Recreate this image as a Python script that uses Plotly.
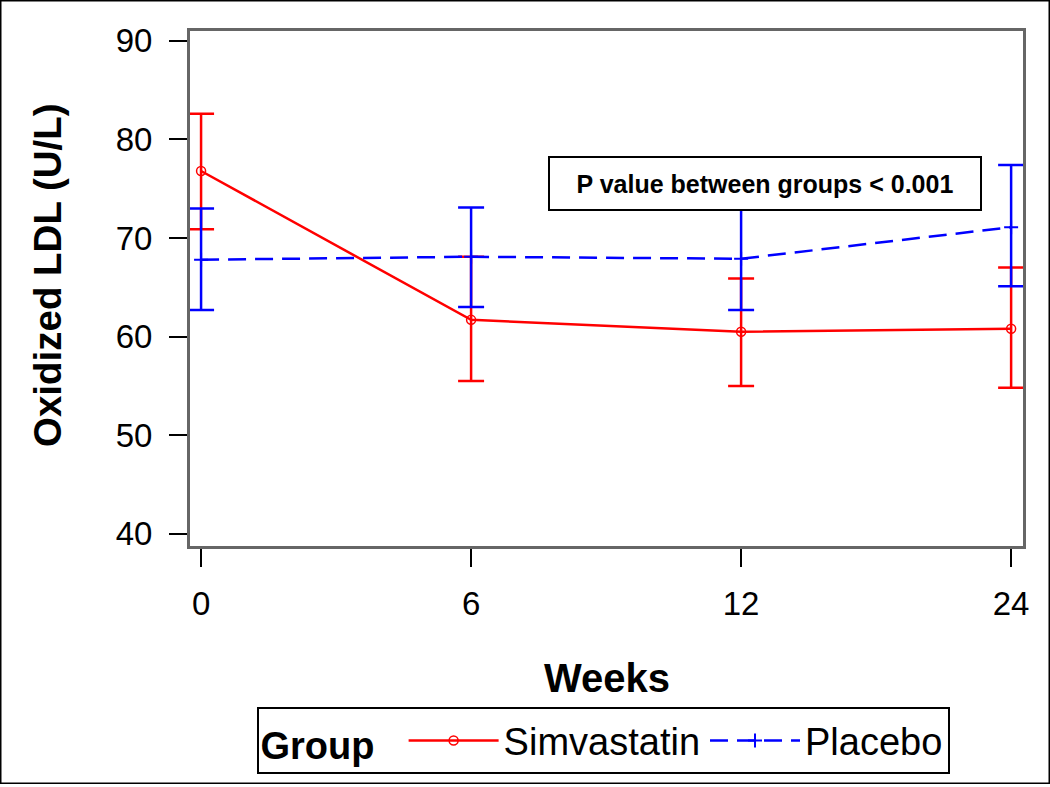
import plotly.graph_objects as go

weeks = ["0", "6", "12", "24"]

simva_mean = [76.8, 61.7, 60.5, 60.8]
simva_upper = [82.6, 68.1, 65.9, 67.0]
simva_lower = [70.9, 55.5, 55.0, 54.8]

placebo_mean = [67.8, 68.1, 67.9, 71.1]
placebo_upper = [73.0, 73.1, 73.1, 77.4]
placebo_lower = [62.7, 63.0, 62.7, 65.1]

y_ticks = [40, 50, 60, 70, 80, 90]

FONT = "Arial, Liberation Sans, sans-serif"
RED = "#ff0000"
BLUE = "#0000ff"

fig = go.Figure()

fig.add_trace(go.Scatter(
    x=weeks, y=simva_mean, name="Simvastatin", mode="lines+markers",
    line=dict(color=RED, width=2.5),
    marker=dict(symbol="circle-open", size=9, color=RED, line=dict(width=1.5, color=RED)),
    error_y=dict(type="data", symmetric=False,
                 array=[u - m for u, m in zip(simva_upper, simva_mean)],
                 arrayminus=[m - l for m, l in zip(simva_mean, simva_lower)],
                 color=RED, thickness=2.5, width=13),
))

fig.add_trace(go.Scatter(
    x=weeks, y=placebo_mean, name="Placebo", mode="lines+markers",
    line=dict(color=BLUE, width=2.5, dash="18px,9px"),
    marker=dict(symbol="cross-thin-open", size=10, color=BLUE, line=dict(width=2, color=BLUE)),
    error_y=dict(type="data", symmetric=False,
                 array=[u - m for u, m in zip(placebo_upper, placebo_mean)],
                 arrayminus=[m - l for m, l in zip(placebo_mean, placebo_lower)],
                 color=BLUE, thickness=2.5, width=13),
))

L, R, T, B = 190, 27, 31, 239
W, H = 1050, 787
pw = W - L - R
ph = H - T - B

fig.update_layout(
    width=W, height=H,
    margin=dict(l=L, r=R, t=T, b=B, pad=0),
    paper_bgcolor="white", plot_bgcolor="white",
    font=dict(family=FONT, color="black"),
    showlegend=True,
    legend=dict(
        orientation="h", x=(603 - L) / pw, xanchor="center",
        y=(ph + T - 710) / ph, yanchor="top",
        title=dict(text="<b>Group</b>  ", font=dict(size=38, family=FONT), side="left"),
        font=dict(size=38, family=FONT),
        bordercolor="black", borderwidth=2, bgcolor="white",
        itemwidth=90,
    ),
    xaxis=dict(
        type="category", range=[-0.041, 3.044],
        showline=True, linecolor="#666666", linewidth=3, mirror=True,
        ticks="outside", ticklen=18, tickwidth=1.5, tickcolor="black",
        tickfont=dict(size=33, family=FONT), ticklabelstandoff=8,
        showgrid=False, zeroline=False,
    ),
    yaxis=dict(
        range=[38.76, 91.0], tickvals=y_ticks,
        showline=True, linecolor="#666666", linewidth=3, mirror=True,
        ticks="outside", ticklen=18, tickwidth=1.5, tickcolor="black",
        tickfont=dict(size=33, family=FONT), ticklabelstandoff=10,
        showgrid=False, zeroline=False,
    ),
)

# axis titles
fig.add_annotation(
    text="<b>Oxidized LDL (U/L)</b>", textangle=-90,
    xref="paper", yref="paper", x=(47 - L) / pw, y=(ph + T - 276) / ph,
    xanchor="center", yanchor="middle", showarrow=False,
    font=dict(size=38.5, family=FONT),
)
fig.add_annotation(
    text="<b>Weeks</b>",
    xref="paper", yref="paper", x=(607 - L) / pw, y=(ph + T - 681) / ph,
    xanchor="center", yanchor="middle", showarrow=False,
    font=dict(size=40, family=FONT),
)

# p-value box
fig.add_annotation(
    text="<b>P value between groups < 0.001</b>",
    xref="x", yref="y", x=2.089, y=75.54,
    xanchor="center", yanchor="middle", showarrow=False,
    font=dict(size=25, family=FONT),
    bgcolor="white", bordercolor="black", borderwidth=2, borderpad=0,
    width=430, height=51,
)

# outer frame around the whole picture
fig.add_shape(
    type="rect", xref="paper", yref="paper",
    x0=(0.75 - L) / pw, x1=(W - 0.75 - L) / pw,
    y0=(ph + T - (H - 0.75)) / ph, y1=(ph + T - 0.75) / ph,
    line=dict(color="black", width=1.5), fillcolor="rgba(0,0,0,0)", layer="above",
)

fig.write_html("out.html", config={"displayModeBar": False},
               post_script="document.body.style.margin='0';")
